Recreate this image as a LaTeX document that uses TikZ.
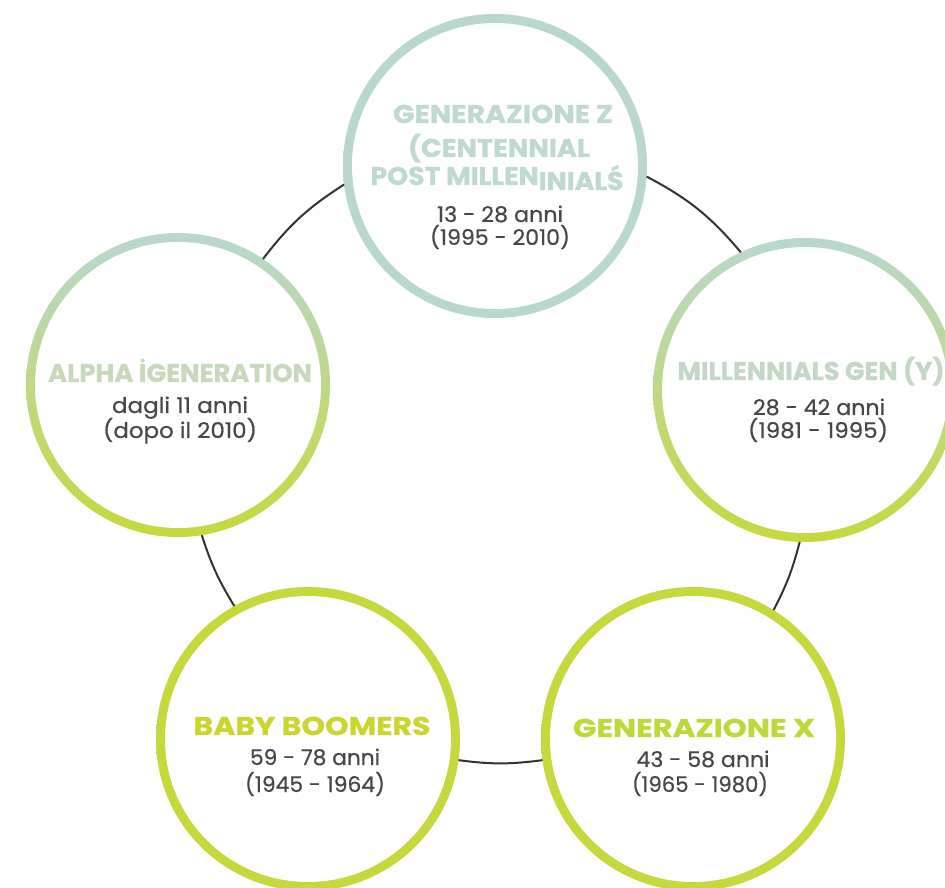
\documentclass[tikz,border=0pt]{standalone}
\usepackage{fontspec}
\usepackage{graphicx}
\setmainfont{Poppins}[BoldFeatures={FakeBold=0.8}]
\newfontface\numfont{Poppins}[FakeBold=0.5]
\definecolor{zring}{HTML}{B8D8CF}
\definecolor{limering}{HTML}{C5D93C}
\definecolor{ztitle}{HTML}{BDD9D0}
\definecolor{atitle}{HTML}{C6DABB}
\definecolor{mtitle}{HTML}{C3D7C6}
\definecolor{btitle}{HTML}{CCD530}
\definecolor{xtitle}{HTML}{C0D73A}
\definecolor{numgray}{HTML}{474747}
\definecolor{ringline}{HTML}{333333}
\begin{document}
\begin{tikzpicture}[x=0.5pt,y=0.5pt,
  gen/.style 2 args={circle, minimum size=152pt, inner sep=0pt, outer sep=0pt,
    path picture={\shade[top color=#1, bottom color=#2] (path picture bounding box.south west) rectangle (path picture bounding box.north east);
      \fill[white] (path picture bounding box.center) circle (71.5pt);}},
  link/.style={draw=ringline, line width=1pt},
  ttl/.style={anchor=base, inner sep=0pt, outer sep=0pt, font=\bfseries\fontsize{12.8}{14}\selectfont},
  num/.style={anchor=base, inner sep=0pt, outer sep=0pt, text=numgray, font=\numfont\fontsize{10.8}{13}\selectfont}]
\clip (0,0) rectangle (945,887);
\fill[white] (0,0) rectangle (945,887);
% circles
\node[gen={zring}{zring}] (z) at (495,721) {};
\node[gen={zring}{limering}] (a) at (178,502) {};
\node[gen={zring}{limering}] (m) at (805,497) {};
\node[gen={limering}{limering}] (b) at (308,148) {};
\node[gen={limering}{limering}] (x) at (693,148) {};
% ring connectors
\draw[link] (a.56.4) to[bend left=10] (z.187.9);
\draw[link] (z.-4.1) to[bend left=11] (m.115.9);
\draw[link] (m.268.1) to[bend left=6.5] (x.58.8);
\draw[link] (x.188.7) to[bend left=7.6] (b.-8.2);
\draw[link] (b.119.2) to[bend left=6.8] (a.279.8);
% Generazione Z
\node[ttl, text=ztitle] (zt1) at (503,764) {\resizebox{110pt}{\height}{GENERAZIONE Z}};
\node[ttl, text=ztitle] (zt2) at (499,730) {\resizebox{91pt}{\height}{(CENTENNIAL}};
\node[ttl, text=ztitle] (zt3) at (497,702) {\resizebox{126.5pt}{\height}{POST MILLEN\raisebox{-2.5pt}{INIALŚ}}};
\node[num] (zn1) at (500,665) {\resizebox{63pt}{\height}{13 - 28 anni}};
\node[num] (zn2) at (500,642) {\resizebox{70pt}{\height}{(1995 - 2010)}};
% Alpha
\node[ttl, text=atitle] (at1) at (180,505) {\resizebox{132pt}{\height}{ALPHA İGENERATION}};
\node[num] (an1) at (180,474) {\resizebox{68pt}{\height}{dagli 11 anni}};
\node[num] (an2) at (180,449) {\resizebox{77pt}{\height}{(dopo il 2010)}};
% Millennials
\node[ttl, text=mtitle] (mt1) at (811,507) {\resizebox{133.5pt}{\height}{MILLENNIALS GEN (Y)}};
\node[num] (mn1) at (819,472) {\resizebox{66pt}{\height}{28 - 42 anni}};
\node[num] (mn2) at (818,449) {\resizebox{70pt}{\height}{(1981 - 1995)}};
% Baby Boomers
\node[ttl, text=btitle] (bt1) at (312,152) {\resizebox{118.5pt}{\height}{BABY BOOMERS}};
\node[num] (bn1) at (315,122) {\resizebox{65pt}{\height}{59 - 78 anni}};
\node[num] (bn2) at (315,95) {\resizebox{70pt}{\height}{(1945 - 1964)}};
% Generazione X
\node[ttl, text=xtitle] (xt1) at (694,150) {\resizebox{121pt}{\height}{GENERAZIONE X}};
\node[num] (xn1) at (703,120) {\resizebox{66.5pt}{\height}{43 - 58 anni}};
\node[num] (xn2) at (700,95) {\resizebox{68pt}{\height}{(1965 - 1980)}};
\end{tikzpicture}
\end{document}
